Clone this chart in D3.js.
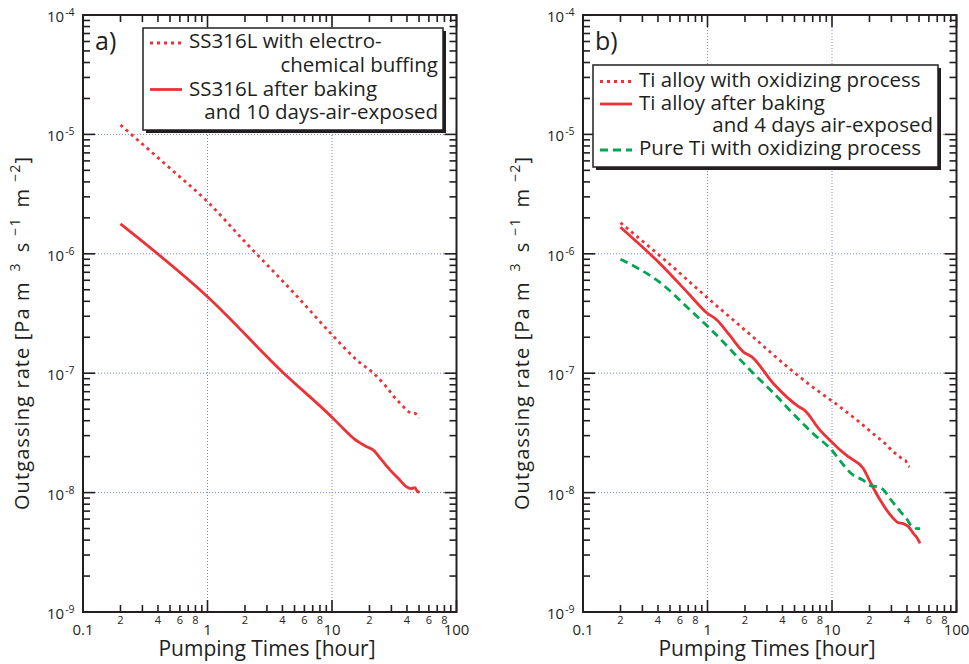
<!DOCTYPE html>
<html><head><meta charset="utf-8">
<script src="https://cdn.jsdelivr.net/npm/d3@7"></script>
<style>body{margin:0;background:#fff}</style>
</head><body><svg id="c" width="969" height="664"></svg>
<script>
// ---- Data (hours, Pa m^3 s^-1 m^-2) ----
const ssBuffTimes = [0.2, 0.5, 1.0, 2.0, 5.0, 10, 15.8, 21.5, 27, 33, 36, 39, 42, 44, 46, 48, 50];
const ssBuffRate  = [1.2e-5, 5.2e-6, 2.73e-6, 1.26e-6, 4.64e-7, 2.1e-7, 1.29e-7, 1.0e-7, 7.8e-8, 6.0e-8, 5.5e-8, 5.0e-8, 4.7e-8, 4.6e-8, 4.6e-8, 4.5e-8, 4.2e-8];

const ssBakeTimes = [0.2, 1.0, 4.06, 9.9, 12.3, 15, 19, 21.5, 25, 29.2, 34, 39.6, 43, 46.4, 48, 50.5];
const ssBakeRate  = [1.78e-6, 4.37e-7, 1.01e-7, 4.32e-8, 3.45e-8, 2.83e-8, 2.42e-8, 2.27e-8, 1.88e-8, 1.55e-8, 1.32e-8, 1.12e-8, 1.08e-8, 1.1e-8, 1.04e-8, 1.0e-8];

const tiOxTimes = [0.2, 0.47, 1.01, 2.2, 5.05, 7.5, 10.2, 15.8, 22.9, 27, 31, 34, 37.4, 39, 40.8, 42];
const tiOxRate  = [1.82e-6, 8.6e-7, 4.24e-7, 2.11e-7, 1.0e-7, 7.25e-8, 5.77e-8, 4.06e-8, 2.94e-8, 2.55e-8, 2.2e-8, 2.05e-8, 1.88e-8, 1.85e-8, 1.67e-8, 1.65e-8];

const tiBakeTimes = [0.2, 0.44, 0.7, 0.985, 1.19, 1.5, 1.94, 2.27, 3.38, 5.4, 6.0, 8.0, 10.2, 11.2, 14, 17.8, 20.5, 24.3, 31, 34, 37.4, 41, 45, 48, 51];
const tiBakeRate  = [1.67e-6, 7.8e-7, 4.67e-7, 3.21e-7, 2.79e-7, 2.09e-7, 1.51e-7, 1.37e-7, 8.2e-8, 5.25e-8, 4.9e-8, 3.34e-8, 2.59e-8, 2.35e-8, 1.95e-8, 1.6e-8, 1.2e-8, 8.7e-9, 6.1e-9, 5.6e-9, 5.5e-9, 5.2e-9, 4.56e-9, 4.2e-9, 3.76e-9];

const pureTiTimes = [0.2, 0.44, 0.68, 1.01, 2.33, 3.82, 4.3, 7.0, 10.2, 11.2, 14.8, 17.8, 20, 22.9, 26, 29, 33, 36, 39.6, 42, 45, 48, 51];
const pureTiRate  = [9.0e-7, 5.48e-7, 3.6e-7, 2.45e-7, 1.0e-7, 6.0e-8, 5.25e-8, 3.14e-8, 2.2e-8, 1.94e-8, 1.4e-8, 1.27e-8, 1.15e-8, 1.12e-8, 1.05e-8, 9.0e-9, 7.6e-9, 6.8e-9, 6.1e-9, 5.5e-9, 5.2e-9, 5.0e-9, 5.0e-9];

const xDecadeLabels = ["0.1", "1", "10", "100"];
const xMinorLabels = ["2", "4", "6", "8"];
const yDecadeExps = ["-4", "-5", "-6", "-7", "-8", "-9"];

const RED = "#ec3237", GREEN = "#00a651", INK = "#231f20", GRID = "#7585d0";
const FONT = "'Open Sans', Lato, sans-serif";

const svg = d3.select("#c");

function panel(ox, series, legend, tag) {
  const x = d3.scaleLog().domain([0.1, 100]).range([ox + 83, ox + 456.5]);
  const y = d3.scaleLog().domain([1e-4, 1e-9]).range([15, 612]);
  const g = svg.append("g");
  const [x0, x1] = x.range(), [y0, y1] = [15, 612];

  // grid
  [1, 10].forEach(v => g.append("line").attr("x1", x(v)).attr("x2", x(v)).attr("y1", y0).attr("y2", y1)
    .attr("stroke", GRID).attr("stroke-width", 1).attr("stroke-dasharray", "1,2"));
  [1e-5, 1e-6, 1e-7, 1e-8].forEach(v => g.append("line").attr("y1", y(v)).attr("y2", y(v)).attr("x1", x0).attr("x2", x1)
    .attr("stroke", GRID).attr("stroke-width", 1).attr("stroke-dasharray", "1,2"));

  // ticks
  const xt = [];
  [0.1, 1, 10].forEach(d => { for (let k = 1; k <= 9; k++) xt.push({v: k * d, major: k === 1}); });
  xt.push({v: 100, major: true});
  const yt = [];
  [1e-9, 1e-8, 1e-7, 1e-6, 1e-5].forEach(d => { for (let k = 1; k <= 9; k++) yt.push({v: k * d, major: k === 1}); });
  yt.push({v: 1e-4, major: true});
  const tk = g.append("g").attr("stroke", INK).attr("stroke-width", 1.6);
  xt.forEach(t => {
    const L = t.major ? 12 : 7, px = x(t.v);
    tk.append("line").attr("x1", px).attr("x2", px).attr("y1", y1).attr("y2", y1 - L);
    tk.append("line").attr("x1", px).attr("x2", px).attr("y1", y0).attr("y2", y0 + L);
  });
  yt.forEach(t => {
    const L = t.major ? 12 : 7, py = y(t.v);
    tk.append("line").attr("y1", py).attr("y2", py).attr("x1", x0).attr("x2", x0 + L);
    tk.append("line").attr("y1", py).attr("y2", py).attr("x1", x1).attr("x2", x1 - L);
  });
  g.append("rect").attr("x", x0).attr("y", y0).attr("width", x1 - x0).attr("height", y1 - y0)
    .attr("fill", "none").attr("stroke", INK).attr("stroke-width", 2);

  // x labels
  [0.1, 1, 10, 100].forEach((v, i) => g.append("text").attr("x", x(v)).attr("y", 635)
    .attr("text-anchor", "middle").attr("font-size", 15).attr("font-family", FONT).attr("fill", INK).text(xDecadeLabels[i]));
  [0.1, 1, 10].forEach(d => [2, 4, 6, 8].forEach((k, i) => g.append("text").attr("x", x(k * d)).attr("y", 624)
    .attr("text-anchor", "middle").attr("font-size", 11).attr("font-family", FONT).attr("fill", INK).text(xMinorLabels[i])));
  // y labels
  [1e-4, 1e-5, 1e-6, 1e-7, 1e-8, 1e-9].forEach((v, i) => {
    const t = g.append("text").attr("x", ox + 47).attr("y", y(v) + 7).attr("font-size", 15)
      .attr("font-family", FONT).attr("fill", INK).text("10");
    t.append("tspan").attr("dy", -6).attr("dx", 1).attr("font-size", 10.5).text(yDecadeExps[i]);
  });

  // titles
  g.append("text").attr("x", ox + 267).attr("y", 656).attr("text-anchor", "middle").attr("font-size", 21)
    .attr("font-family", FONT).attr("fill", INK).text("Pumping Times [hour]");
  const yt2 = g.append("text").attr("transform", `translate(${ox + 29},333) rotate(-90)`).attr("text-anchor", "middle")
    .attr("font-size", 20).attr("letter-spacing", 1.1).attr("font-family", FONT).attr("fill", INK);
  yt2.append("tspan").text("Outgassing rate [Pa m");
  yt2.append("tspan").attr("dx", 10).attr("dy", -9).attr("font-size", 14).text("3");
  yt2.append("tspan").attr("dx", 10).attr("dy", 9).text("s");
  yt2.append("tspan").attr("dx", 6).attr("dy", -9).attr("font-size", 14).text("\u22121");
  yt2.append("tspan").attr("dx", 10).attr("dy", 9).text("m");
  yt2.append("tspan").attr("dx", 6).attr("dy", -9).attr("font-size", 14).text("\u22122");
  yt2.append("tspan").attr("dy", 9).text("]");

  g.append("text").attr("x", ox + 95).attr("y", 50).attr("font-size", 25).attr("font-family", FONT)
    .attr("fill", INK).text(tag);

  // series
  const line = d3.line().curve(d3.curveMonotoneX).x(d => x(d[0])).y(d => y(d[1]));
  series.forEach(s => {
    g.append("path").datum(d3.zip(s.t, s.v)).attr("d", line).attr("fill", "none")
      .attr("stroke", s.color).attr("stroke-width", 2.8).attr("stroke-dasharray", s.dash)
      .attr("stroke-linejoin", "round");
  });

  // legend
  const L = legend;
  g.append("rect").attr("x", L.x + 3).attr("y", L.y + 3).attr("width", L.w).attr("height", L.h).attr("fill", INK);
  g.append("rect").attr("x", L.x).attr("y", L.y).attr("width", L.w).attr("height", L.h)
    .attr("fill", "#fff").attr("stroke", INK).attr("stroke-width", 1.5);
  L.items.forEach(it => {
    if (it.sample) g.append("line").attr("x1", L.x + 7).attr("x2", L.x + 39).attr("y1", it.sy).attr("y2", it.sy)
      .attr("stroke", it.sample.color).attr("stroke-width", 2.8).attr("stroke-dasharray", it.sample.dash);
    g.append("text").attr("x", it.anchor === "end" ? L.x + L.w - 5 : L.x + 46).attr("y", it.by)
      .attr("text-anchor", it.anchor || "start").attr("font-size", 20.5).attr("font-family", FONT)
      .attr("fill", INK).text(it.text);
  });
}

const DOT = "3,4", DASH = "8,5";
panel(0, [
  {t: ssBuffTimes, v: ssBuffRate, color: RED, dash: DOT},
  {t: ssBakeTimes, v: ssBakeRate, color: RED, dash: null}
], {x: 143, y: 28, w: 300, h: 102, items: [
  {text: "SS316L with electro-", by: 48, sy: 43, sample: {color: RED, dash: DOT}},
  {text: "chemical buffing", by: 72, anchor: "end"},
  {text: "SS316L after baking", by: 96, sy: 89.5, sample: {color: RED, dash: null}},
  {text: "and 10 days-air-exposed", by: 119, anchor: "end"}
]}, "a)");

panel(500, [
  {t: tiOxTimes, v: tiOxRate, color: RED, dash: DOT},
  {t: tiBakeTimes, v: tiBakeRate, color: RED, dash: null},
  {t: pureTiTimes, v: pureTiRate, color: GREEN, dash: DASH}
], {x: 593, y: 65, w: 345, h: 102, items: [
  {text: "Ti alloy with oxidizing process", by: 87, sy: 81.5, sample: {color: RED, dash: DOT}},
  {text: "Ti alloy after baking", by: 110, sy: 104, sample: {color: RED, dash: null}},
  {text: "and 4 days air-exposed", by: 132, anchor: "end"},
  {text: "Pure Ti with oxidizing process", by: 155, sy: 150, sample: {color: GREEN, dash: DASH}}
]}, "b)");
</script></body></html>
